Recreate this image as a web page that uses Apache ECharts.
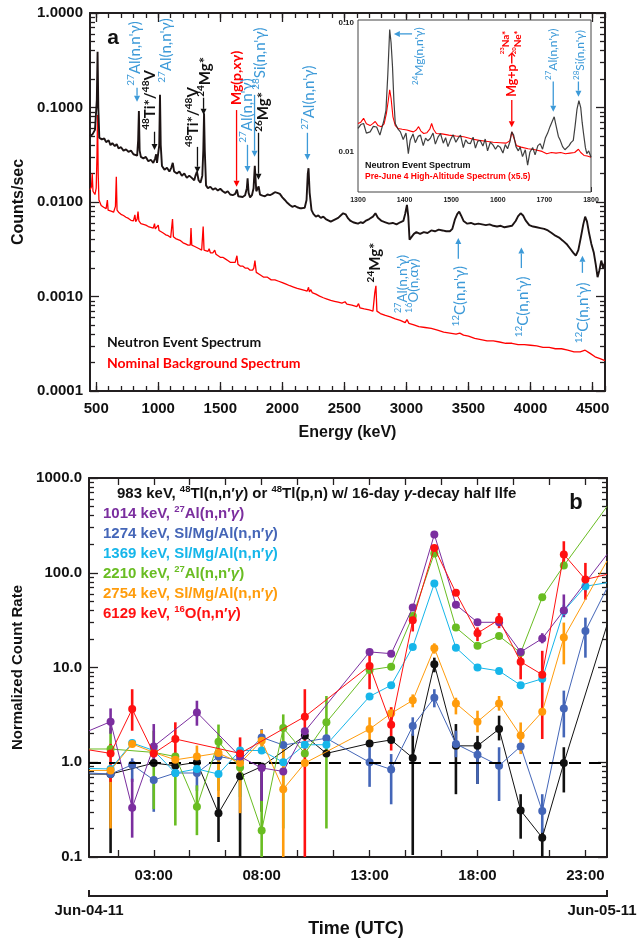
<!DOCTYPE html>
<html>
<head>
<meta charset="utf-8">
<script src="https://cdn.jsdelivr.net/npm/echarts@6/dist/echarts.min.js"></script>
<style>
  html, body { margin: 0; padding: 0; background: #fff; }
  #chart { width: 639px; height: 939px; }
</style>
</head>
<body>
<div id="chart"></div>
<script>
// ---------- Panel a: gamma-ray spectra (energy in keV, counts/sec) ----------
const eventSpectrum = [
  [450,0.050],[470,0.052],[490,0.058],[505,0.12],[511,0.39],[517,0.10],[525,0.048],[545,0.046],[565,0.047],
  [580,0.043],[600,0.045],[615,0.040],[630,0.042],[650,0.039],[665,0.041],[680,0.037],[700,0.038],[720,0.035],
  [740,0.036],[760,0.034],[780,0.035],[800,0.032],[815,0.033],[830,0.031],[838,0.045],[844,0.092],[850,0.035],
  [860,0.030],[880,0.029],[900,0.030],[920,0.027],[940,0.028],[960,0.026],[975,0.029],[983,0.032],[990,0.026],
  [1000,0.025],[1008,0.040],[1014,0.136],[1020,0.040],[1030,0.024],[1050,0.022],[1070,0.023],[1090,0.021],
  [1105,0.023],[1117,0.026],[1128,0.021],[1150,0.020],[1170,0.021],[1190,0.019],[1210,0.020],[1230,0.018],
  [1250,0.019],[1270,0.018],[1290,0.017],[1300,0.019],[1312,0.021],[1325,0.017],[1340,0.016],[1355,0.019],
  [1363,0.035],[1369,0.087],[1375,0.035],[1385,0.015],[1400,0.014],[1420,0.0145],[1440,0.0135],[1460,0.014],
  [1480,0.0132],[1500,0.0138],[1520,0.013],[1540,0.0125],[1560,0.013],[1580,0.012],[1600,0.0118],[1620,0.0122],
  [1634,0.0135],[1645,0.0115],[1660,0.0112],[1680,0.0113],[1700,0.0118],[1714,0.014],[1720,0.0178],[1728,0.0125],
  [1740,0.0112],[1755,0.0118],[1768,0.014],[1778,0.0241],[1790,0.013],[1800,0.0125],[1809,0.0146],[1820,0.012],
  [1840,0.0117],[1860,0.0115],[1880,0.012],[1900,0.0118],[1920,0.0122],[1940,0.0127],[1960,0.0125],[1980,0.0122],
  [2000,0.0112],[2020,0.0105],[2040,0.0098],[2060,0.0093],[2080,0.0089],[2100,0.0091],[2120,0.0088],[2140,0.0086],
  [2160,0.0086],[2180,0.0087],[2195,0.0105],[2205,0.020],[2211,0.0228],[2220,0.0125],[2235,0.0082],[2250,0.0075],
  [2270,0.0070],[2290,0.0072],[2310,0.0068],[2330,0.0070],[2350,0.0066],[2370,0.0064],[2390,0.0062],[2410,0.0064],
  [2430,0.0066],[2450,0.0068],[2470,0.0072],[2490,0.0076],[2510,0.0074],[2530,0.0067],[2550,0.0063],[2570,0.0061],
  [2590,0.0060],[2610,0.0059],[2630,0.0061],[2650,0.0060],[2670,0.0063],[2700,0.0066],[2730,0.0070],[2750,0.0076],
  [2770,0.0068],[2800,0.0063],[2830,0.0061],[2860,0.0059],[2890,0.0060],[2920,0.0058],[2950,0.0061],[2975,0.0063],
  [2990,0.0075],[3004,0.0093],[3015,0.0070],[3025,0.0040],[3040,0.0039],[3060,0.0046],[3080,0.0048],[3110,0.0046],
  [3140,0.0048],[3170,0.0047],[3200,0.0050],[3230,0.0049],[3260,0.0051],[3290,0.0050],[3320,0.0049],[3350,0.0049],
  [3370,0.0052],[3390,0.0065],[3410,0.0075],[3425,0.0079],[3440,0.0072],[3460,0.0063],[3490,0.0059],[3520,0.0060],
  [3550,0.0058],[3580,0.0059],[3610,0.0058],[3640,0.0057],[3670,0.0058],[3700,0.0056],[3730,0.0055],[3760,0.0056],
  [3790,0.0054],[3820,0.0055],[3850,0.0056],[3880,0.0063],[3900,0.0071],[3920,0.0076],[3940,0.0072],[3960,0.0064],
  [3990,0.0057],[4020,0.0055],[4050,0.0054],[4080,0.0053],[4110,0.0052],[4140,0.0050],[4170,0.0047],[4200,0.0044],
  [4230,0.0042],[4260,0.0039],[4290,0.0036],[4320,0.0032],[4345,0.0029],[4365,0.0027],[4385,0.0031],[4405,0.0042],
  [4425,0.0058],[4440,0.0070],[4455,0.0062],[4470,0.0048],[4490,0.0036],[4510,0.0029],[4525,0.0022],[4540,0.0016],
  [4555,0.0019],[4570,0.0024],[4585,0.0020],[4600,0.0023]
];

const backgroundSpectrum = [
  [450,0.0135],[462,0.0145],[468,0.020],[474,0.013],[490,0.012],[500,0.014],[506,0.030],[511,0.0835],[516,0.020],
  [522,0.0105],[540,0.0092],[560,0.0088],[580,0.0085],[590,0.0105],[596,0.0082],[620,0.0080],[640,0.0078],
  [655,0.009],[662,0.0185],[668,0.0082],[680,0.0078],[700,0.0074],[720,0.0072],[740,0.0069],[760,0.0067],
  [780,0.0064],[800,0.0063],[812,0.0073],[818,0.0062],[830,0.0066],[837,0.0079],[844,0.0063],[860,0.0059],
  [880,0.0058],[900,0.0057],[920,0.0055],[940,0.0054],[960,0.0053],[970,0.0059],[976,0.0052],[990,0.0051],
  [1000,0.0057],[1006,0.0050],[1020,0.0048],[1040,0.0047],[1060,0.0045],[1080,0.0044],[1100,0.0042],
  [1115,0.0066],[1122,0.0043],[1140,0.0041],[1160,0.0040],[1180,0.0039],[1200,0.0037],[1220,0.0036],
  [1240,0.0035],[1258,0.0035],[1264,0.0053],[1270,0.0035],[1290,0.0034],[1300,0.0035],[1310,0.0033],
  [1330,0.0032],[1350,0.0031],[1362,0.0055],[1369,0.0031],[1385,0.0030],[1400,0.0030],[1410,0.0032],
  [1420,0.0029],[1440,0.0029],[1455,0.0031],[1465,0.0028],[1480,0.0027],[1500,0.0026],[1520,0.0026],
  [1540,0.0025],[1560,0.0024],[1580,0.0023],[1600,0.0023],[1620,0.0023],[1634,0.0027],[1642,0.0022],
  [1660,0.0021],[1680,0.0021],[1700,0.0020],[1720,0.0020],[1740,0.0019],[1760,0.0019],[1770,0.0020],
  [1779,0.0024],[1790,0.0018],[1800,0.0018],[1820,0.0017],[1850,0.0016],[1880,0.0016],[1910,0.0015],
  [1940,0.0015],[1970,0.00145],[2000,0.0014],[2030,0.00135],[2060,0.0013],[2090,0.00126],[2120,0.00122],
  [2150,0.00119],[2180,0.00116],[2200,0.00114],[2211,0.00125],[2218,0.00112],[2230,0.00118],[2240,0.0011],
  [2270,0.00106],[2300,0.00101],[2330,0.00097],[2360,0.00094],[2390,0.00091],[2420,0.00089],[2450,0.00087],
  [2480,0.00085],[2505,0.00088],[2520,0.00083],[2560,0.00081],[2600,0.00078],[2614,0.00084],[2625,0.00076],
  [2660,0.00074],[2700,0.00072],[2730,0.00070],[2745,0.0011],[2754,0.0013],[2762,0.00070],[2790,0.00066],
  [2830,0.00063],[2870,0.00061],[2910,0.00058],[2950,0.00056],[2990,0.00053],[3004,0.00057],[3020,0.00052],
  [3060,0.00050],[3100,0.00048],[3150,0.00047],[3200,0.00046],[3250,0.00044],[3300,0.00042],[3350,0.00041],
  [3400,0.00040],[3430,0.00041],[3460,0.00039],[3500,0.00038],[3550,0.00036],[3600,0.00035],[3650,0.00034],
  [3700,0.00034],[3750,0.00033],[3800,0.00032],[3850,0.00032],[3900,0.00031],[3950,0.00031],[4000,0.000305],
  [4050,0.00030],[4100,0.00029],[4150,0.00029],[4200,0.00028],[4250,0.00028],[4300,0.00027],[4350,0.00026],
  [4400,0.00026],[4440,0.00027],[4480,0.00025],[4520,0.00023],[4560,0.00022],[4600,0.00021]
];

// Inset: 1300-1800 keV detail
const eventInset = [
  [1300,0.0152],[1306,0.0163],[1312,0.0166],[1318,0.0140],[1326,0.0143],[1333,0.0158],[1340,0.0156],[1347,0.0135],
  [1355,0.0172],[1360,0.021],[1364,0.040],[1368,0.0887],[1371,0.070],[1374,0.046],[1377,0.025],[1380,0.0166],
  [1386,0.0150],[1391,0.0143],[1397,0.0125],[1403,0.0140],[1408,0.0097],[1412,0.0123],[1418,0.0138],[1423,0.0118],
  [1429,0.0132],[1434,0.0135],[1440,0.0112],[1445,0.0128],[1450,0.0122],[1455,0.0127],[1461,0.0140],[1466,0.0115],
  [1472,0.0131],[1477,0.0139],[1483,0.0117],[1488,0.0129],[1493,0.0110],[1498,0.0123],[1504,0.0136],[1510,0.0119],
  [1515,0.0128],[1520,0.0135],[1526,0.0108],[1531,0.0124],[1536,0.0117],[1541,0.0116],[1547,0.0130],[1552,0.0107],
  [1557,0.0121],[1562,0.0123],[1568,0.0111],[1573,0.0126],[1578,0.0102],[1584,0.0119],[1590,0.0113],[1595,0.0105],
  [1600,0.0112],[1605,0.0109],[1611,0.0098],[1616,0.0114],[1621,0.0106],[1626,0.0120],[1630,0.0143],[1634,0.0135],
  [1639,0.0110],[1644,0.0102],[1648,0.0109],[1653,0.0092],[1659,0.0104],[1664,0.0079],[1669,0.0100],[1675,0.0108],
  [1680,0.0095],[1686,0.0112],[1691,0.0116],[1696,0.0105],[1702,0.0128],[1707,0.0140],[1712,0.0157],[1716,0.0170],
  [1721,0.0187],[1725,0.0160],[1730,0.0132],[1734,0.0123],[1739,0.0110],[1744,0.0104],[1748,0.0103],[1753,0.0112],
  [1757,0.0118],[1762,0.0123],[1766,0.0160],[1770,0.0215],[1774,0.0250],[1778,0.0220],[1781,0.0170],[1784,0.0139],
  [1788,0.0108],[1791,0.0097],[1795,0.0102],[1800,0.0091]
];
const backgroundInset = [
  [1300,0.0166],[1306,0.0170],[1312,0.0182],[1318,0.0165],[1326,0.0160],[1331,0.0165],[1337,0.0172],[1343,0.0160],
  [1350,0.0157],[1356,0.0165],[1361,0.0199],[1365,0.025],[1368,0.0303],[1371,0.026],[1375,0.0187],[1380,0.0160],
  [1386,0.0152],[1395,0.0150],[1405,0.0148],[1413,0.0145],[1419,0.0143],[1425,0.0148],[1430,0.0157],[1435,0.0145],
  [1441,0.0139],[1448,0.0141],[1454,0.0150],[1458,0.0166],[1462,0.0150],[1468,0.0139],[1480,0.0138],[1495,0.0135],
  [1510,0.0133],[1527,0.0131],[1545,0.0126],[1560,0.0123],[1575,0.0121],[1590,0.0119],[1605,0.0118],[1618,0.0117],
  [1626,0.0122],[1630,0.0143],[1634,0.0130],[1640,0.0112],[1650,0.0109],[1665,0.0106],[1680,0.0104],[1695,0.0101],
  [1705,0.0097],[1715,0.0099],[1725,0.0098],[1735,0.0099],[1745,0.0097],[1755,0.0098],[1765,0.0099],[1773,0.0105],
  [1778,0.0099],[1785,0.0094],[1792,0.0093],[1800,0.0091]
];

const energyTicks = [500, 1000, 1500, 2000, 2500, 3000, 3500, 4000, 4500];
const countTicks = [0.0001, 0.001, 0.01, 0.1, 1];
const insetEnergyTicks = [1300, 1400, 1500, 1600, 1700, 1800];
const insetCountTicks = [0.01, 0.1];

// ---------- Panel b: normalized count rates per hour (UTC) ----------
const hours    = [0,1,2,3,4,5,6,7,8,9,10,11,12,13,14,15,16,17,18,19,20,21,22,23,24];
const rate983  = [0.75,0.75,null,0.98,0.92,1.0,0.29,0.71,0.9,null,1.9,1.24,null,1.58,1.72,1.11,10.8,1.49,1.49,2.24,0.31,0.16,0.98,null,28];
const rate1014 = [2.15,2.68,0.33,1.47,null,3.36,null,1.15,0.87,0.80,2.12,null,null,14.6,14.0,43,253,46,30,30,14.6,20.2,40,null,156];
const rate1274 = [0.77,0.75,0.94,0.65,0.77,0.77,1.15,1.05,1.83,1.52,null,1.79,null,1.0,0.84,2.41,4.8,1.56,1.2,0.92,1.47,0.305,3.7,24.3,69];
const rate1369 = [0.86,0.85,1.6,1.33,0.77,0.85,0.75,1.33,1.33,1.0,1.53,1.53,null,4.95,6.5,16.5,77,16.2,10,9.2,6.5,7.6,39.5,72,78.5];
const rate2210 = [1.38,1.38,null,1.27,1.15,0.34,1.65,0.88,0.19,2.3,1.24,2.64,null,9.4,10.2,35,160,26.4,17,21.5,14.3,55,119,null,500];
const rate2754 = [0.82,0.82,1.56,1.27,1.06,1.15,1.25,0.98,1.69,0.52,0.98,null,null,2.24,3.28,4.5,16,4.18,2.68,4.18,1.91,3.41,20.7,null,133];
const rate6129 = [1.35,1.24,3.64,1.24,1.76,null,null,1.24,null,null,3.03,null,null,10.4,2.49,31.5,183,61.5,23,32,11.5,8.4,156,85,96];

// error bars: [hour, lower, upper]
const err983  = [[1,0.11,0.75],[6,0.144,0.43],[7,0.1,0.9],[8,0.3,0.9],[15,0.105,2.0],[16,8.9,12.7],[17,0.46,2.53],[18,0.59,1.9],[19,1.7,3.1],[20,0.156,0.46],[21,0.1,0.2],[22,0.48,1.44]];
const err1014 = [[1,2.0,3.7],[2,0.16,0.67],[3,1.0,2.53],[5,2.43,4.46],[8,0.39,0.95],[21,18,23],[22,34,59]];
const err1274 = [[2,0.62,1.1],[3,0.3,0.7],[5,0.5,0.8],[8,1.5,2.24],[13,0.55,1.44],[14,0.36,1.22],[15,1.9,2.98],[16,3.8,5.9],[17,1.13,2.15],[18,0.59,1.44],[19,0.39,1.44],[21,0.18,0.46],[22,1.83,5.7],[23,12.7,33.6]];
const err1369 = [[21,6.6,8.8],[22,34,46],[23,62,85]];
const err2210 = [[1,1.3,2.3],[3,0.32,2.15],[4,0.215,1.15],[5,0.17,0.57],[6,0.5,2.5],[7,0.43,0.95],[8,0.1,0.4],[9,0.2,3.2],[11,0.2,5.0]];
const err2754 = [[1,0.2,0.85],[4,0.76,1.1],[5,0.7,1.5],[6,0.43,1.3],[7,0.29,1.13],[8,1.3,2.2],[9,0.1,1.69],[13,1.69,2.98],[14,2.9,3.8],[15,3.8,5.2],[16,14,18],[17,3.2,4.8],[18,2.07,3.5],[19,3.5,5.0],[20,1.22,2.63],[22,10.8,29.8]];
const err6129 = [[1,0.62,1.56],[2,2.15,5.9],[4,1.13,2.64],[7,1.2,1.83],[10,0.1,5.9],[13,5.9,15],[14,1.33,3.8],[15,24,35],[18,19,26.5],[19,26,37.5],[20,7.5,14.4],[21,1.76,15],[22,113,215],[23,52,127]];

const hourTicks = [1.333, 3, 4.667, 6.333, 8, 9.667, 11.333, 13, 14.667, 16.333, 18, 19.667, 21.333, 23];
const hourLabels = [3, 8, 13, 18, 23];
const rateTicks = [0.1, 1, 10, 100, 1000];

// ---------- styling ----------
const INK = '#231f20';
const SANS = '"Liberation Sans", Arial, Helvetica, sans-serif';
const HUMANIST = 'Lato, "Open Sans", sans-serif';
const ANNOT_BLUE = '#3d9ad8';
const SPEC_RED = '#ff0000';

const TOP = { left: 90, top: 13, width: 515, height: 378 };
const INSET = { left: 358, top: 20, width: 233, height: 172 };
const BOT = { left: 89, top: 478, width: 518, height: 379 };

function logMinors(fromExp, toExp) {
  const out = [];
  for (let k = fromExp; k <= toExp; k++) {
    for (let m = 2; m <= 9; m++) out.push(Number((m * Math.pow(10, k)).toPrecision(3)));
  }
  return out;
}
function stepTicks(a, b, step) {
  const out = [];
  for (let v = a; v <= b + 1e-9; v += step) out.push(v);
  return out;
}
const energyMinor = stepTicks(500, 4600, 100);
const countMinor = logMinors(-4, -1);
const insetEnergyMinor = stepTicks(1300, 1800, 20);
const insetCountMinor = logMinors(-3, -2).filter(v => v >= 0.0049 && v <= 0.105);
const rateMinor = logMinors(-1, 2);

const frameLine = { show: true, onZero: false, lineStyle: { color: INK, width: 2 } };
const hiddenLine = { show: false, onZero: false };
const noSplit = { show: false };
function ticks(len, vals, w) {
  return { show: true, inside: true, length: len, customValues: vals, lineStyle: { color: INK, width: w || 1.3 } };
}
const axisFont = { color: '#111', fontFamily: SANS, fontSize: 15, fontWeight: 'bold' };
const plainNumber = v => String(v);

function xAxisDef(grid, min, max, pos, line, tick, label, extra) {
  return Object.assign({
    gridIndex: grid, type: 'value', min, max, position: pos,
    axisLine: line, axisTick: tick, axisLabel: label || { show: false }, splitLine: noSplit
  }, extra || {});
}
function yAxisDef(grid, min, max, pos, line, tick, label, extra) {
  return Object.assign({
    gridIndex: grid, type: 'log', logBase: 10, min, max, position: pos,
    axisLine: line, axisTick: tick, axisLabel: label || { show: false }, splitLine: noSplit
  }, extra || {});
}

// rotated peak labels for panel a and its inset
const peakLabels = [
  { e: 817,  v: 0.17,    text: "{s|27}Al(n,n'γ)", color: ANNOT_BLUE, arrow: [829, 0.162, 829, 0.115] },
  { e: 938,  v: 0.058,   text: '{s|48}Ti*/{s|48}V', color: '#111', bold: true, arrow: [970, 0.0554, 970, 0.0356] },
  { e: 1066, v: 0.183,   text: "{s|27}Al(n,n'γ)", color: ANNOT_BLUE },
  { e: 1285, v: 0.0383,  text: '{s|48}Ti*/{s|48}V', color: '#111', bold: true, arrow: [1316, 0.0383, 1316, 0.0204] },
  { e: 1381, v: 0.13,    text: '{s|24}Mg*', color: '#111', bold: true, arrow: [1365, 0.127, 1365, 0.0836] },
  { e: 1631, v: 0.106,   text: 'Mg(p,xγ)', color: SPEC_RED, bold: true, size: 14, arrow: [1631, 0.094, 1631, 0.0145] },
  { e: 1719, v: 0.0424,  text: "{s|27}Al(n,n'γ)", color: ANNOT_BLUE, arrow: [1719, 0.0403, 1719, 0.0208] },
  { e: 1824, v: 0.154,   text: "{s|28}Si(n,n'γ)", color: ANNOT_BLUE, arrow: [1776, 0.136, 1776, 0.0302] },
  { e: 1849, v: 0.0554,  text: '{s|26}Mg*', color: '#111', bold: true, arrow: [1808, 0.054, 1808, 0.0172] },
  { e: 2219, v: 0.058,   text: "{s|27}Al(n,n'γ)", color: ANNOT_BLUE, arrow: [2202, 0.054, 2202, 0.0279] },
  { e: 2750, v: 0.00141, text: '{s|24}Mg*', color: '#111', bold: true },
  { e: 2967, v: 0.00067, text: "{s|27}Al(n,n'γ)", color: ANNOT_BLUE, size: 13.5 },
  { e: 3056, v: 0.00067, text: '{s|16}O(n,αγ)', color: ANNOT_BLUE, size: 13.5 },
  { e: 3434, v: 0.00048, text: "{s|12}C(n,n'γ)", color: ANNOT_BLUE, arrow: [3418, 0.00251, 3418, 0.00416] },
  { e: 3942, v: 0.00037, text: "{s|12}C(n,n'γ)", color: ANNOT_BLUE, arrow: [3926, 0.002, 3926, 0.0033] },
  { e: 4426, v: 0.00032, text: "{s|12}C(n,n'γ)", color: ANNOT_BLUE, arrow: [4418, 0.00178, 4418, 0.0027] }
];
const insetLabels = [
  { e: 1431, v: 0.033,  text: "{s|24}Mg(n,n'γ)", color: ANNOT_BLUE, size: 12, arrow: [1416, 0.082, 1377, 0.082] },
  { e: 1630, v: 0.0267, text: 'Mg+p→', color: SPEC_RED, size: 12.5, bold: true, arrow: [1630, 0.0252, 1630, 0.0155] },
  { e: 1617, v: 0.057,  text: '{s|23}Na*', color: SPEC_RED, size: 10, bold: true },
  { e: 1643, v: 0.057,  text: '{s|20}Ne*', color: SPEC_RED, size: 10, bold: true },
  { e: 1718, v: 0.0361, text: "{s|27}Al(n,n'γ)", color: ANNOT_BLUE, size: 12, arrow: [1719, 0.0351, 1719, 0.0205] },
  { e: 1777, v: 0.0361, text: "{s|28}Si(n,n'γ)", color: ANNOT_BLUE, size: 12, arrow: [1773, 0.0351, 1773, 0.0268] }
];

function labelSeries(list, xi, yi, defSize) {
  return {
    type: 'custom', xAxisIndex: xi, yAxisIndex: yi, clip: false, silent: true, z: 6,
    data: list.map(l => [l.e, l.v]),
    renderItem: function (params, api) {
      const l = list[params.dataIndex];
      const size = l.size || defSize;
      const weight = l.bold ? 'bold' : 'normal';
      const p = api.coord([l.e, l.v]);
      const children = [{
        type: 'text', x: p[0], y: p[1], rotation: Math.PI / 2,
        style: {
          text: l.text, fill: l.color, fontFamily: HUMANIST, fontSize: size, fontWeight: weight,
          align: 'left', verticalAlign: 'middle', lineHeight: Math.round(size * 1.35),
          rich: { s: { fontSize: Math.round(size * 0.64), fill: l.color, fontFamily: HUMANIST, fontWeight: weight,
                       verticalAlign: 'top', lineHeight: Math.round(size * 0.7) } }
        }
      }];
      if (l.arrow) {
        const a = api.coord([l.arrow[0], l.arrow[1]]);
        const b = api.coord([l.arrow[2], l.arrow[3]]);
        const dx = b[0] - a[0], dy = b[1] - a[1];
        const len = Math.sqrt(dx * dx + dy * dy) || 1;
        const ux = dx / len, uy = dy / len;
        const hl = 6, hw = 3;
        const bx = b[0] - ux * hl, by = b[1] - uy * hl;
        children.push({ type: 'line', shape: { x1: a[0], y1: a[1], x2: bx, y2: by },
          style: { stroke: l.color, lineWidth: 1.3 } });
        children.push({ type: 'polygon', shape: { points: [[b[0], b[1]], [bx - uy * hw, by + ux * hw], [bx + uy * hw, by - ux * hw]] },
          style: { fill: l.color } });
      }
      return { type: 'group', children };
    }
  };
}

const rateSeries = [
  { name: '983 keV',  color: '#111111', values: rate983,  errors: err983 },
  { name: '1274 keV', color: '#4466b8', values: rate1274, errors: err1274 },
  { name: '1369 keV', color: '#16b6ea', values: rate1369, errors: err1369 },
  { name: '2210 keV', color: '#69bd22', values: rate2210, errors: err2210 },
  { name: '2754 keV', color: '#ff9c0c', values: rate2754, errors: err2754 },
  { name: '1014 keV', color: '#7b2e9f', values: rate1014, errors: err1014 },
  { name: '6129 keV', color: '#ff1111', values: rate6129, errors: err6129 }
];

const series = [
  { type: 'line', name: 'Nominal Background Spectrum', xAxisIndex: 0, yAxisIndex: 0, data: backgroundSpectrum,
    symbol: 'none', clip: true, silent: true, z: 2, lineStyle: { color: SPEC_RED, width: 1.3 } },
  { type: 'line', name: 'Neutron Event Spectrum', xAxisIndex: 0, yAxisIndex: 0, data: eventSpectrum,
    symbol: 'none', clip: true, silent: true, z: 3, lineStyle: { color: '#1d1414', width: 1.9 } },
  { type: 'line', name: 'Pre-June 4 High-Altitude Spectrum', xAxisIndex: 4, yAxisIndex: 4, data: backgroundInset,
    symbol: 'none', clip: true, silent: true, z: 3, lineStyle: { color: SPEC_RED, width: 1.1 } },
  { type: 'line', name: 'Neutron Event Spectrum (inset)', xAxisIndex: 4, yAxisIndex: 4, data: eventInset,
    symbol: 'none', clip: true, silent: true, z: 4, lineStyle: { color: '#2a2a2a', width: 1.2, opacity: 0.9 } },
  labelSeries(peakLabels, 0, 0, 15),
  labelSeries(insetLabels, 4, 4, 12)
];

rateSeries.forEach(s => {
  series.push({
    type: 'custom', name: s.name + ' error', xAxisIndex: 6, yAxisIndex: 6, clip: true, silent: true, z: 2,
    data: s.errors,
    renderItem: function (params, api) {
      const a = api.coord([api.value(0), api.value(1)]);
      const b = api.coord([api.value(0), api.value(2)]);
      return { type: 'line', shape: { x1: a[0], y1: a[1], x2: b[0], y2: b[1] },
               style: { stroke: s.color, lineWidth: 2.6 } };
    }
  });
});
rateSeries.forEach((s, idx) => {
  const data = [];
  hours.forEach((h, i) => {
    const v = s.values[i];
    if (v === null || v === undefined) return;
    const edge = (h === 0 || h === 24);
    data.push({ value: [h, v], symbol: edge ? 'none' : 'circle' });
  });
  const ser = {
    type: 'line', name: s.name, xAxisIndex: 6, yAxisIndex: 6, data, clip: true, silent: true, z: 3 + idx,
    symbol: 'circle', symbolSize: 8, showAllSymbol: true,
    itemStyle: { color: s.color }, lineStyle: { color: s.color, width: 1 }
  };
  if (idx === 0) {
    ser.markLine = { silent: true, symbol: ['none', 'none'], label: { show: false },
      lineStyle: { color: '#000', type: [12, 8], width: 2 }, data: [{ yAxis: 1 }] };
  }
  series.push(ser);
});

// legend rows of panel b
const rowText = [
  { t: '983 keV, {s|48}Tl(n,n′{g|γ}) or {s|48}Tl(p,n) w/ 16-day {g|γ}-decay half llfe', c: '#111111', x: 117 },
  { t: '1014 keV, {s|27}Al(n,n′{g|γ})', c: '#7b2e9f', x: 103 },
  { t: '1274 keV, Sl/Mg/Al(n,n′{g|γ})', c: '#4466b8', x: 103 },
  { t: '1369 keV, Sl/Mg/Al(n,n′{g|γ})', c: '#16b6ea', x: 103 },
  { t: '2210 keV, {s|27}Al(n,n′{g|γ})', c: '#69bd22', x: 103 },
  { t: '2754 keV, Sl/Mg/Al(n,n′{g|γ})', c: '#ff9c0c', x: 103 },
  { t: '6129 keV, {s|16}O(n,n′{g|γ})', c: '#ff1111', x: 103 }
];

const graphic = [
  { type: 'text', x: 113, y: 38, z: 10, style: { text: 'a', fill: '#111', fontFamily: SANS, fontSize: 21, fontWeight: 'bold', align: 'center', verticalAlign: 'middle' } },
  { type: 'text', x: 107, y: 342, z: 10, style: { text: 'Neutron Event Spectrum', fill: '#111', fontFamily: HUMANIST, fontSize: 14, fontWeight: 'bold', verticalAlign: 'middle' } },
  { type: 'text', x: 107, y: 363, z: 10, style: { text: 'Nominal Background Spectrum', fill: SPEC_RED, fontFamily: HUMANIST, fontSize: 14, fontWeight: 'bold', verticalAlign: 'middle' } },
  { type: 'text', x: 365, y: 166, z: 10, style: { text: 'Neutron Event Spectrum', fill: '#111', fontFamily: SANS, fontSize: 9, fontWeight: 'bold', verticalAlign: 'middle' } },
  { type: 'text', x: 365, y: 177, z: 10, style: { text: 'Pre-June 4 High-Altitude Spectrum (x5.5)', fill: SPEC_RED, fontFamily: SANS, fontSize: 8.5, fontWeight: 'bold', verticalAlign: 'middle' } },
  { type: 'text', x: 576, y: 503, z: 10, style: { text: 'b', fill: '#111', fontFamily: SANS, fontSize: 22, fontWeight: 'bold', align: 'center', verticalAlign: 'middle' } }
];
rowText.forEach((r, i) => {
  graphic.push({ type: 'text', x: r.x, y: 494 + i * 20, z: 10, style: {
    text: r.t, fill: r.c, fontFamily: SANS, fontSize: 15, fontWeight: 'bold', verticalAlign: 'middle', lineHeight: 20,
    rich: {
      s: { fontSize: 9.5, fontFamily: SANS, fontWeight: 'bold', fill: r.c, verticalAlign: 'top', lineHeight: 10 },
      g: { fontSize: 15, fontFamily: SANS, fontWeight: 'bold', fontStyle: 'italic', fill: r.c }
    }
  } });
});
// date bracket under the time axis
const bx0 = BOT.left, bx1 = BOT.left + BOT.width;
graphic.push({ type: 'polyline', z: 10, shape: { points: [[bx0, 890], [bx0, 896], [bx1, 896], [bx1, 890]] },
  style: { stroke: INK, lineWidth: 2, fill: null } });
graphic.push({ type: 'text', x: bx0, y: 911, z: 10, style: { text: 'Jun-04-11', fill: '#111', fontFamily: SANS, fontSize: 15, fontWeight: 'bold', align: 'center', verticalAlign: 'middle' } });
graphic.push({ type: 'text', x: Math.min(bx1, 639 - 37), y: 911, z: 10, style: { text: 'Jun-05-11', fill: '#111', fontFamily: SANS, fontSize: 15, fontWeight: 'bold', align: 'center', verticalAlign: 'middle' } });
graphic.push({ type: 'text', x: 356, y: 929, z: 10, style: { text: 'Time (UTC)', fill: '#111', fontFamily: SANS, fontSize: 18, fontWeight: 'bold', align: 'center', verticalAlign: 'middle' } });

const option = {
  animation: false,
  backgroundColor: '#ffffff',
  grid: [
    Object.assign({ containLabel: false, outerBoundsMode: 'none' }, TOP),
    Object.assign({ containLabel: false, outerBoundsMode: 'none', show: true, backgroundColor: '#ffffff', borderColor: '#444', borderWidth: 1, z: 1 }, INSET),
    Object.assign({ containLabel: false, outerBoundsMode: 'none' }, BOT)
  ],
  xAxis: [
    xAxisDef(0, 450, 4600, 'bottom', frameLine, ticks(9, energyTicks),
      Object.assign({ customValues: energyTicks, margin: 10, formatter: plainNumber }, axisFont),
      { name: 'Energy (keV)', nameLocation: 'middle', nameGap: 34,
        nameTextStyle: { color: '#111', fontFamily: SANS, fontSize: 16, fontWeight: 'bold' } }),
    xAxisDef(0, 450, 4600, 'bottom', hiddenLine, ticks(5, energyMinor)),
    xAxisDef(0, 450, 4600, 'top', frameLine, ticks(9, energyTicks)),
    xAxisDef(0, 450, 4600, 'top', hiddenLine, ticks(5, energyMinor)),
    xAxisDef(1, 1300, 1800, 'bottom', hiddenLine, ticks(5, insetEnergyTicks, 1),
      { customValues: insetEnergyTicks, margin: 5, formatter: plainNumber, color: '#222', fontFamily: SANS, fontSize: 7, fontWeight: 'bold' }),
    xAxisDef(1, 1300, 1800, 'bottom', hiddenLine, ticks(2.5, insetEnergyMinor, 1)),
    xAxisDef(2, 0, 24, 'bottom', frameLine, ticks(7, hourTicks),
      Object.assign({ customValues: hourLabels, margin: 11, formatter: h => (h < 10 ? '0' : '') + h + ':00' }, axisFont)),
    xAxisDef(2, 0, 24, 'top', frameLine, ticks(7, hourTicks))
  ],
  yAxis: [
    yAxisDef(0, 0.0001, 1, 'left', frameLine, ticks(9, countTicks),
      Object.assign({ customValues: countTicks, margin: 7, formatter: v => v.toFixed(4) }, axisFont),
      { name: 'Counts/sec', nameLocation: 'middle', nameGap: 63, nameRotate: 90,
        nameTextStyle: { color: '#111', fontFamily: SANS, fontSize: 16, fontWeight: 'bold' } }),
    yAxisDef(0, 0.0001, 1, 'left', hiddenLine, ticks(5, countMinor)),
    yAxisDef(0, 0.0001, 1, 'right', frameLine, ticks(9, countTicks)),
    yAxisDef(0, 0.0001, 1, 'right', hiddenLine, ticks(5, countMinor)),
    yAxisDef(1, 0.0049, 0.105, 'left', hiddenLine, ticks(5, insetCountTicks, 1),
      { customValues: insetCountTicks, margin: 4, formatter: v => v.toFixed(2), color: '#222', fontFamily: SANS, fontSize: 8, fontWeight: 'bold' }),
    yAxisDef(1, 0.0049, 0.105, 'left', hiddenLine, ticks(3, insetCountMinor, 1)),
    yAxisDef(2, 0.1, 1000, 'left', frameLine, ticks(9, rateTicks),
      Object.assign({ customValues: rateTicks, margin: 7, formatter: v => v.toFixed(1) }, axisFont),
      { name: 'Normalized Count Rate', nameLocation: 'middle', nameGap: 59, nameRotate: 90,
        nameTextStyle: { color: '#111', fontFamily: SANS, fontSize: 15, fontWeight: 'bold' } }),
    yAxisDef(2, 0.1, 1000, 'left', hiddenLine, ticks(5, rateMinor)),
    yAxisDef(2, 0.1, 1000, 'right', frameLine, ticks(9, rateTicks)),
    yAxisDef(2, 0.1, 1000, 'right', hiddenLine, ticks(5, rateMinor))
  ],
  series,
  graphic
};

const chart = echarts.init(document.getElementById('chart'), null, { renderer: 'canvas', width: 639, height: 939 });
chart.setOption(option);
</script>
</body>
</html>
